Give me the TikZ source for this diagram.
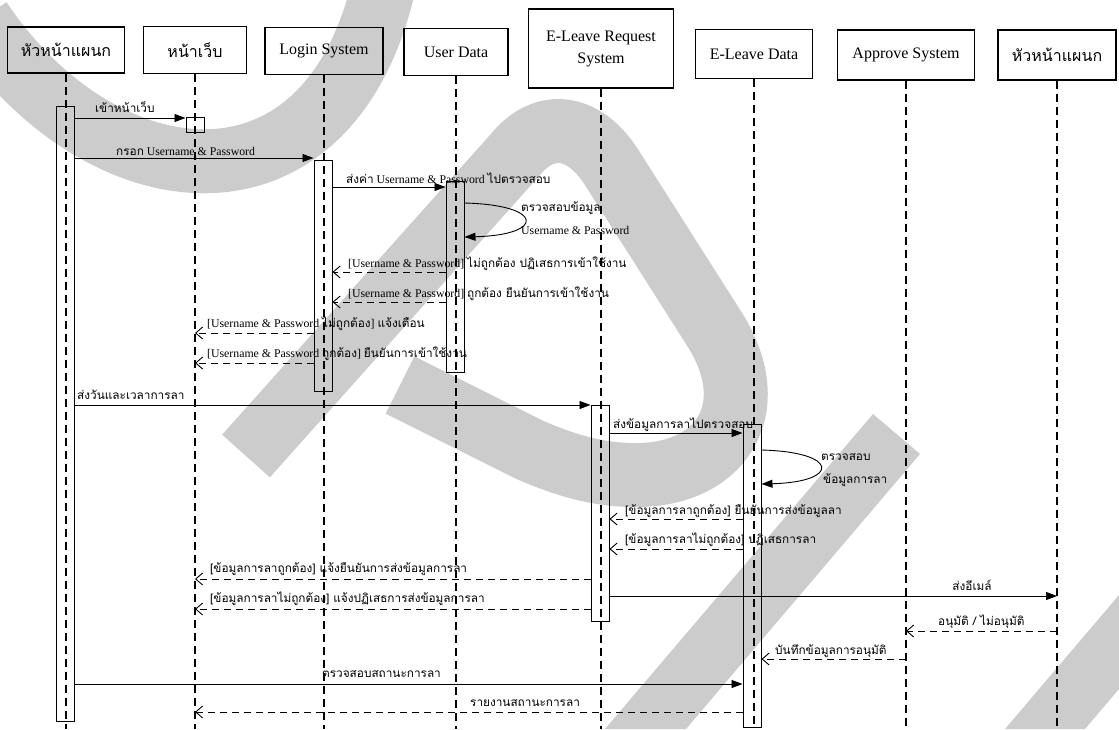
\documentclass[tikz,border=0pt]{standalone}
\usepackage{fontspec}
\setmainfont{Liberation Serif}
\newfontfamily\thaifont[Script=Thai]{Loma}
\usetikzlibrary{arrows.meta}
\definecolor{wmgray}{RGB}{204,204,204}
\newcommand{\tht}[1]{{\thaifont #1}}

\begin{document}
\begin{tikzpicture}[
    x=1pt, y=-1pt,
    % กล่องหัว (object)
    hdr/.style={
        draw,
        line width=1.1pt,
        font=\fontsize{16}{20}\selectfont,
        align=center,
        inner sep=2pt
    },
    % activation box
    act/.style={draw, line width=1pt, minimum width=18pt, inner sep=0pt},
    life/.style={line width=1.3pt, dash pattern=on 8pt off 5pt},
    msg/.style={line width=0.9pt, -{Triangle[length=11pt,width=8pt]}},
    ret/.style={line width=0.9pt, dash pattern=on 7pt off 5pt,
        -{Straight Barb[length=7pt,width=12pt]}},
    lbl/.style={font=\fontsize{11.8}{14}\selectfont, inner sep=0pt},
    wm/.style={draw=wmgray, line width=64pt, line join=round}
]
\useasboundingbox (0,0) rectangle (1119,729);

% ---- ลายน้ำสีเทา ----
\begin{scope}
\clip (0,0) rectangle (1119,729);
\draw[wm] (-20,20) .. controls (100,200) and (330,230) .. (385,-20);
\draw[wm] (246,456) -- (515,155) .. controls (545,118) and (585,125) .. (612,168)
    -- (715,330) .. controls (765,410) and (720,478) .. (630,475)
    .. controls (595,474) and (565,465) .. (530,450) -- (400,385);
\fill[wmgray] (873,414) -- (920,454) -- (686,729) -- (605,729) -- cycle;
\fill[wmgray] (1005,729) -- (1119,595) -- (1119,689) -- (1085,729) -- cycle;
\end{scope}

% ---- OBJECTS ----
\node[hdr, minimum width=117pt, minimum height=46pt] (hL)    at (66,50)    {\tht{หัวหน้าแผนก}};
\node[hdr, minimum width=103pt, minimum height=47pt] (web)   at (195,50)   {\tht{หน้าเว็บ}};
\node[hdr, minimum width=118pt, minimum height=47pt] (login) at (324,51)   {Login System};
\node[hdr, minimum width=104pt, minimum height=47pt] (udata) at (456,52)   {User Data};
\node[hdr, minimum width=145pt, minimum height=79pt] (ereq)  at (601,48.5) {E-Leave Request\\[2pt]System};
\node[hdr, minimum width=117pt, minimum height=49pt] (edata) at (754,54)   {E-Leave Data};
\node[hdr, minimum width=137pt, minimum height=50pt] (appr)  at (906,55)   {Approve System};
\node[hdr, minimum width=118pt, minimum height=50pt] (hR)    at (1057,55)  {\tht{หัวหน้าแผนก}};

% ---- LIFELINES ----
\coordinate (bot) at (0,729);
\foreach \o in {hL,web,login,udata,ereq,edata,appr,hR}
    \draw[life] (\o.south) -- (\o.south |- bot);

% ---- ACTIVATION ----
\node[act, minimum height=615pt] (aL)  at (65,413.5)  {};
\node[act, minimum height=15pt]  (aW)  at (195,124.5) {};
\node[act, minimum height=231pt] (aLg) at (323,275.5) {};
\node[act, minimum height=191pt] (aUD) at (455,276.5) {};
\node[act, minimum height=216pt] (aER) at (600,513)   {};
\node[act, minimum height=303pt] (aED) at (752,575.5) {};

% ---- LOGIN ----
\coordinate (r1) at (0,118);
\coordinate (r2) at (0,158);
\coordinate (r3) at (0,187);
\coordinate (c1a) at (0,203);
\coordinate (c1b) at (0,237);
\coordinate (r5) at (0,272);
\coordinate (r6) at (0,302);
\coordinate (r7) at (0,333);
\coordinate (r8) at (0,363);

\draw[msg] (aL.east |- r1) -- (aW.west |- r1);
\node[lbl, anchor=base west] (t1) at (95,112) {\tht{เข้าหน้าเว็บ}};

\draw[msg] (aL.east |- r2) -- (aLg.west |- r2);
\node[lbl, anchor=base west] (t2) at (116,155) {\tht{กรอก} Username \& Password};

\draw[msg] (aLg.east |- r3) -- (aUD.west |- r3);
\node[lbl, anchor=base west] (t3) at (346,183) {\tht{ส่งค่า} Username \& Password \tht{ไปตรวจสอบ}};

\draw[msg] (aUD.east |- c1a) .. controls (545,205) and (545,235) .. (aUD.east |- c1b);
\node[lbl, anchor=base west] (t4a) at (521,211) {\tht{ตรวจสอบข้อมูล}};
\node[lbl, anchor=base west] (t4b) at (521,234) {Username \& Password};

\draw[ret] (aUD.west |- r5) -- (aLg.east |- r5);
\node[lbl, anchor=base west] (t5) at (348,267) {[Username \& Password] \tht{ไม่ถูกต้อง ปฏิเสธการเข้าใช้งาน}};

\draw[ret] (aUD.west |- r6) -- (aLg.east |- r6);
\node[lbl, anchor=base west] (t6) at (348,297) {[Username \& Password] \tht{ถูกต้อง ยืนยันการเข้าใช้งาน}};

\draw[ret] (aLg.west |- r7) -- (web.south |- r7);
\node[lbl, anchor=base west] (t7) at (207,327) {[Username \& Password \tht{ไม่ถูกต้อง}] \tht{แจ้งเตือน}};

\draw[ret] (aLg.west |- r8) -- (web.south |- r8);
\node[lbl, anchor=base west] (t8) at (207,357) {[Username \& Password \tht{ถูกต้อง}] \tht{ยืนยันการเข้าใช้งาน}};

% ---- ส่งคำขอลา ----
\coordinate (r9)  at (0,405);
\coordinate (r10) at (0,433);
\coordinate (c2a) at (0,450);
\coordinate (c2b) at (0,484);
\coordinate (r12) at (0,519);
\coordinate (r13) at (0,549);
\coordinate (r14) at (0,579);
\coordinate (r16) at (0,596);
\coordinate (r15) at (0,609);

\draw[msg] (aL.east |- r9) -- (aER.west |- r9);
\node[lbl, anchor=base west] (t9) at (77,399) {\tht{ส่งวันและเวลาการลา}};

\draw[msg] (aER.east |- r10) -- (aED.west |- r10);
\node[lbl, anchor=base west] (t10) at (613,428) {\tht{ส่งข้อมูลการลาไปตรวจสอบ}};

\draw[msg] (aED.east |- c2a) .. controls (840,452) and (840,482) .. (aED.east |- c2b);
\node[lbl, anchor=base west] (t11a) at (821,460) {\tht{ตรวจสอบ}};
\node[lbl, anchor=base west] (t11b) at (823,483) {\tht{ข้อมูลการลา}};

\draw[ret] (aED.west |- r12) -- (aER.east |- r12);
\node[lbl, anchor=base west] (t12) at (625,514) {\tht{[ข้อมูลการลาถูกต้อง] ยืนยันการส่งข้อมูลลา}};

\draw[ret] (aED.west |- r13) -- (aER.east |- r13);
\node[lbl, anchor=base west] (t13) at (625,543) {\tht{[ข้อมูลการลาไม่ถูกต้อง] ปฏิเสธการลา}};

\draw[ret] (aER.west |- r14) -- (web.south |- r14);
\node[lbl, anchor=base west] (t14) at (210,572) {\tht{[ข้อมูลการลาถูกต้อง] แจ้งยืนยันการส่งข้อมูลการลา}};

\draw[ret] (aER.west |- r15) -- (web.south |- r15);
\node[lbl, anchor=base west] (t15) at (210,602) {\tht{[ข้อมูลการลาไม่ถูกต้อง] แจ้งปฏิเสธการส่งข้อมูลการลา}};

% ---- อนุมัติ ----
\coordinate (r17) at (0,631);
\coordinate (r18) at (0,659);
\coordinate (r19) at (0,684);
\coordinate (r20) at (0,712);

\draw[msg] (aER.east |- r16) -- (hR.south |- r16);
\node[lbl, anchor=base] (t16) at (972,590) {\tht{ส่งอีเมล์}};

\draw[ret] (hR.south |- r17) -- (appr.south |- r17);
\node[lbl, anchor=base west] (t17) at (938,625) {\tht{อนุมัติ / ไม่อนุมัติ}};

\draw[ret] (appr.south |- r18) -- (aED.east |- r18);
\node[lbl, anchor=base west] (t18) at (775,654) {\tht{บันทึกข้อมูลการอนุมัติ}};

\draw[msg] (aL.east |- r19) -- (aED.west |- r19);
\node[lbl, anchor=base west] (t19) at (322,677) {\tht{ตรวจสอบสถานะการลา}};

\draw[ret] (aED.west |- r20) -- (web.south |- r20);
\node[lbl, anchor=base west] (t20) at (470,706) {\tht{รายงานสถานะการลา}};

\end{tikzpicture}
\end{document}
